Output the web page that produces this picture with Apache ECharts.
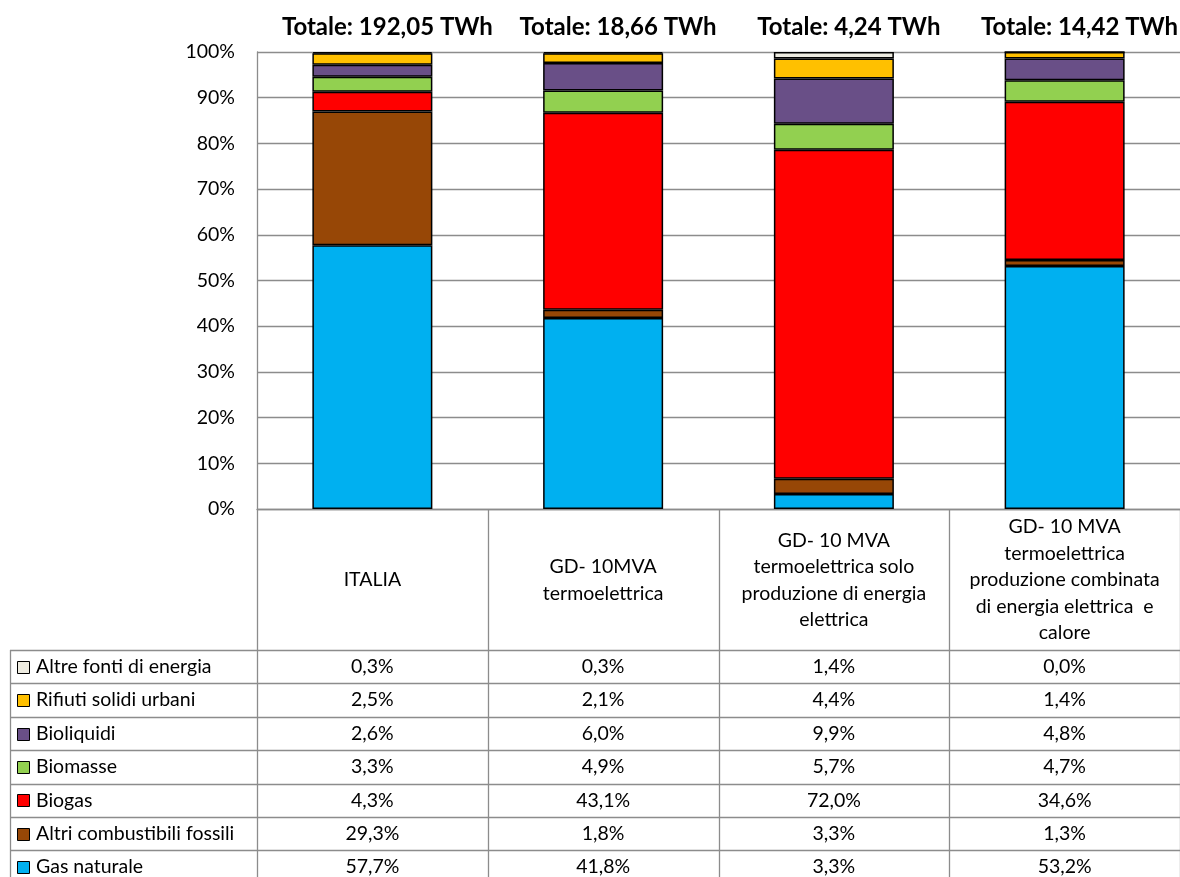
<!DOCTYPE html>
<html>
<head>
<meta charset="utf-8">
<script src="https://cdn.jsdelivr.net/npm/echarts@6/dist/echarts.min.js"></script>
<style>
  html, body { margin: 0; padding: 0; background: #fff; }
  #chart { width: 1180px; height: 877px; }
</style>
</head>
<body>
<div id="chart"></div>
<script>
// categorie (intestazioni della tabella dati)
const categories = [
  'ITALIA',
  'GD- 10MVA\ntermoelettrica',
  'GD- 10 MVA\ntermoelettrica solo\nproduzione di energia\nelettrica',
  'GD- 10 MVA\ntermoelettrica\nproduzione combinata\ndi energia elettrica  e\ncalore'
];
const totals = ['Totale: 192,05 TWh', 'Totale: 18,66 TWh', 'Totale: 4,24 TWh', 'Totale: 14,42 TWh'];

// serie, dal basso verso l'alto
const seriesNames = [
  'Gas naturale',
  'Altri combustibili fossili',
  'Biogas',
  'Biomasse',
  'Bioliquidi',
  'Rifiuti solidi urbani',
  'Altre fonti di energia'
];
const gasNaturale = [57.7, 41.8, 3.3, 53.2];
const altriFossili = [29.3, 1.8, 3.3, 1.3];
const biogas = [4.3, 43.1, 72.0, 34.6];
const biomasse = [3.3, 4.9, 5.7, 4.7];
const bioliquidi = [2.6, 6.0, 9.9, 4.8];
const rifiuti = [2.5, 2.1, 4.4, 1.4];
const altreFonti = [0.3, 0.3, 1.4, 0.0];
const seriesData = [gasNaturale, altriFossili, biogas, biomasse, bioliquidi, rifiuti, altreFonti];
const colors = ['#00B0F0', '#974706', '#FF0000', '#92D050', '#694F87', '#FFC000', '#EEECE1'];

const FONT = 'Lato, "Liberation Sans", sans-serif';
const FS = 19.5;
const GRID_COL = '#8c8c8c';

const chart = echarts.init(document.getElementById('chart'));

chart.setOption({
  animation: false,
  grid: { left: 257, top: 52, width: 928, height: 457 },
  xAxis: {
    type: 'category',
    data: categories,
    axisLine: { lineStyle: { color: GRID_COL, width: 1.3 } },
    axisTick: { show: false },
    axisLabel: {
      interval: 0,
      margin: 71,
      verticalAlign: 'middle',
      lineHeight: 26.5,
      fontSize: FS,
      color: '#000',
      fontFamily: FONT
    }
  },
  yAxis: {
    type: 'value',
    min: 0,
    max: 100,
    interval: 10,
    axisLine: { show: true, lineStyle: { color: GRID_COL, width: 1.3 } },
    axisTick: { show: false },
    splitLine: { lineStyle: { color: GRID_COL, width: 1.3 } },
    axisLabel: { formatter: '{value}%', fontSize: FS, color: '#000', margin: 22, fontFamily: FONT }
  },
  series: seriesNames.map((name, i) => ({
    name: name,
    type: 'bar',
    stack: 'tot',
    barWidth: 120,
    data: seriesData[i],
    itemStyle: { color: colors[i], borderColor: '#000', borderWidth: 1.5 },
    emphasis: { disabled: true }
  }))
});

// tabella dati disegnata sotto l'asse
const c0 = chart.convertToPixel({ xAxisIndex: 0 }, 0);
const bw = chart.convertToPixel({ xAxisIndex: 0 }, 1) - c0;
const yBase = chart.convertToPixel({ yAxisIndex: 0 }, 0);
const headH = 141;
const rowH = 33.4;
const yHead = yBase + headH;
const fmt = v => v.toFixed(1).replace('.', ',') + '%';

const g = [];
const lineStyle = { stroke: GRID_COL, lineWidth: 1.3 };

for (let i = 0; i <= categories.length; i++) {
  const x = Math.round(c0 - bw / 2 + i * bw) + 0.5;
  g.push({ type: 'line', shape: { x1: x, y1: yBase, x2: x, y2: 900 }, style: lineStyle, silent: true });
}
for (let k = 0; k <= seriesNames.length; k++) {
  const y = Math.round(yHead + k * rowH) + 0.5;
  g.push({ type: 'line', shape: { x1: 10, y1: y, x2: 1200, y2: y }, style: lineStyle, silent: true });
}
g.push({ type: 'line', shape: { x1: 10.5, y1: yHead, x2: 10.5, y2: 900 }, style: lineStyle, silent: true });

// righe: dall'alto (Altre fonti) al basso (Gas naturale)
for (let r = 0; r < seriesNames.length; r++) {
  const s = seriesNames.length - 1 - r;
  const cy = yHead + r * rowH + rowH / 2;
  g.push({
    type: 'rect', shape: { x: 17.5, y: Math.round(cy - 6) + 0.5, width: 12, height: 12 },
    style: { fill: colors[s], stroke: '#000', lineWidth: 1 }, silent: true
  });
  g.push({
    type: 'text', x: 36, y: cy,
    style: { text: seriesNames[s], fontSize: FS, fontFamily: FONT, fill: '#000', verticalAlign: 'middle', align: 'left' },
    silent: true
  });
  for (let c = 0; c < categories.length; c++) {
    g.push({
      type: 'text', x: c0 + c * bw, y: cy,
      style: { text: fmt(seriesData[s][c]), fontSize: FS, fontFamily: FONT, fill: '#000', verticalAlign: 'middle', align: 'center' },
      silent: true
    });
  }
}

// totali sopra le barre
for (let c = 0; c < totals.length; c++) {
  g.push({
    type: 'text', x: c0 + c * bw + 15, y: 27,
    style: { text: totals[c], fontSize: 24, fontWeight: 'bold', fontFamily: FONT, fill: '#000', verticalAlign: 'middle', align: 'center' },
    silent: true
  });
}

chart.setOption({ graphic: g });
</script>
</body>
</html>
